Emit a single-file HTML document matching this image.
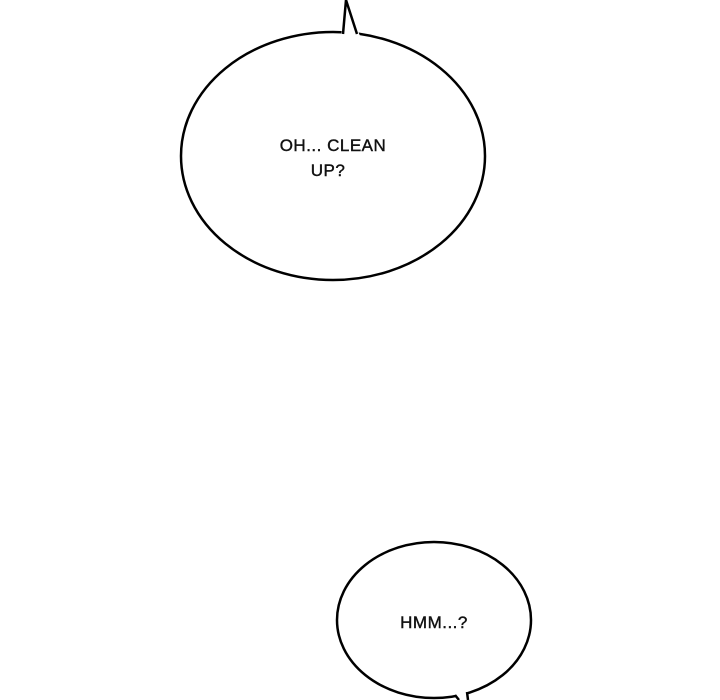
<!DOCTYPE html>
<html><head><style>
html,body{margin:0;padding:0;background:#fff;width:720px;height:700px;overflow:hidden}
text{font-family:"Liberation Sans",sans-serif;font-size:17px;fill:#111;stroke:#111;stroke-width:0.4;letter-spacing:0.5px}
</style></head><body>
<svg width="720" height="700" viewBox="0 0 720 700">
<ellipse cx="333" cy="156" rx="152" ry="124" fill="#fff" stroke="#000" stroke-width="2.5"/>
<path d="M341 36 L346 0 L360 36 Z" fill="#fff"/>
<path d="M343 34 L346 0 L357 34" fill="none" stroke="#000" stroke-width="2.5"/>
<text x="333" y="151" text-anchor="middle">OH... CLEAN</text>
<text x="328" y="176" text-anchor="middle">UP?</text>
<ellipse cx="434" cy="620" rx="97" ry="78" fill="#fff" stroke="#000" stroke-width="2.5"/>
<path d="M454 693 L458 700 L466 700 L468 690 Z" fill="#fff"/>
<path d="M455 695 L459 700 M468 700 L467 692" fill="none" stroke="#000" stroke-width="2.5"/>
<text x="434" y="628" text-anchor="middle">HMM...?</text>
</svg>
</body></html>
